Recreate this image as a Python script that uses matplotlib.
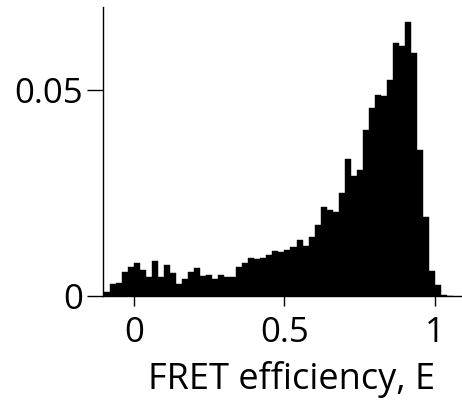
import matplotlib.pyplot as plt
import numpy as np

plt.rcParams['font.family'] = ['Open Sans', 'DejaVu Sans']

# FRET efficiency histogram, 0.02 wide bins starting at E = -0.1
bin_start = -0.1
bin_width = 0.02
fraction = [
    0.00105, 0.0029, 0.0032, 0.0059, 0.0071, 0.0081, 0.0064, 0.0047, 0.0085, 0.0045,
    0.0074, 0.0056, 0.0029, 0.0042, 0.0057, 0.0067, 0.0048, 0.0050, 0.0042, 0.0051,
    0.0047, 0.0045, 0.0071, 0.0081, 0.0093, 0.0090, 0.0091, 0.0100, 0.0110, 0.0106,
    0.0111, 0.0119, 0.0135, 0.0122, 0.0143, 0.0171, 0.0216, 0.0208, 0.0204, 0.0250,
    0.0331, 0.0290, 0.0305, 0.0401, 0.0455, 0.0486, 0.0484, 0.0524, 0.0613, 0.0605,
    0.0663, 0.0589, 0.0353, 0.0192, 0.0060, 0.0026, 0.0003, 0.0001,
]
xticks = [0, 0.5, 1]
xticklabels = ['0', '0.5', '1']
yticks = [0, 0.05]
yticklabels = ['0', '0.05']

left_edges = bin_start + bin_width * np.arange(len(fraction))

fig = plt.figure(figsize=(4.62, 4.01), dpi=100)
ax = fig.add_axes([0.223, 0.262, 0.777, 0.7205])

ax.bar(left_edges, fraction, width=bin_width, align='edge',
       color='black', edgecolor='black', linewidth=0.3)

ax.set_xlim(-0.103, 1.09)
ax.set_ylim(0, 0.07)

for side in ['top', 'right']:
    ax.spines[side].set_visible(False)
for side in ['left', 'bottom']:
    ax.spines[side].set_linewidth(1.0)

ax.set_xticks(xticks)
ax.set_xticklabels(xticklabels)
ax.set_yticks(yticks)
ax.set_yticklabels(yticklabels)
ax.tick_params(axis='x', direction='out', length=7.5, width=1.0, pad=7, labelsize=25)
ax.tick_params(axis='y', direction='out', length=11.5, width=1.0, pad=3, labelsize=25)

ax.set_xlabel('FRET efficiency, E', fontsize=26, ha='right')
ax.xaxis.set_label_coords(0.925, -0.225)

fig.savefig('out.png', dpi=100)
